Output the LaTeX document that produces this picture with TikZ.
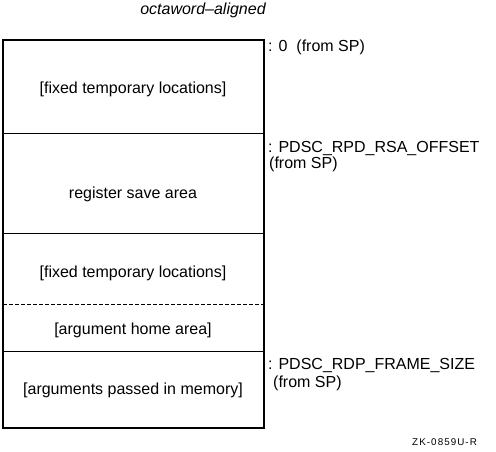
\documentclass[tikz,border=0pt]{standalone}
\usepackage{fontspec}
\setmainfont{Liberation Sans}
\usetikzlibrary{positioning}

\tikzset{
  area/.style={font=\fontsize{16}{19}\selectfont, anchor=base, inner sep=0pt},
  offs/.style={font=\fontsize{16}{19}\selectfont, anchor=base west, inner sep=0pt},
}

\begin{document}
\begin{tikzpicture}[x=1pt,y=-1pt]
    \useasboundingbox (0,0) rectangle (496,452);

    % Draw frame and dividers
    \draw[line width=2pt] (3,40) rectangle (263.5,428);
    \foreach \y in {133.5, 233.5, 351} {
      \draw[line width=1pt] (3,\y) -- (263.5,\y);
    }
    \draw[line width=1pt, dash pattern=on 4pt off 2pt] (3,304) -- (263.5,304);

    % Title
    \node[area, font=\fontsize{16}{19}\selectfont\itshape] (title) at (203,15) {octaword--aligned};

    % Areas inside the frame
    \foreach \n/\y/\t in {fixa/94/{[fixed temporary locations]}, rsa/198/{register save area},
                          fixb/277/{[fixed temporary locations]}, home/334/{[argument home area]},
                          args/394/{[arguments passed in memory]}} {
      \node[area] (\n) at (133,\y) {\t};
    }

    % Offsets on the right
    \node[offs] (sp)    at (268,52)  {: 0\hspace{9pt}(from SP)};
    \node[offs] (rsaof) at (268,153) {: PDSC\_RPD\_RSA\_OFFSET};
    \node[offs] (rsasp) at (269,168) {(from SP)};
    \node[offs] (frsz)  at (268,369) {: PDSC\_RDP\_FRAME\_SIZE};
    \node[offs] (frsp)  at (273,387) {(from SP)};

    % Figure tag
    \node[anchor=base west, inner sep=0pt, font=\fontsize{9.8}{12}\selectfont\addfontfeature{LetterSpace=11}] (tag) at (412,445) {ZK-0859U-R};
\end{tikzpicture}
\end{document}
